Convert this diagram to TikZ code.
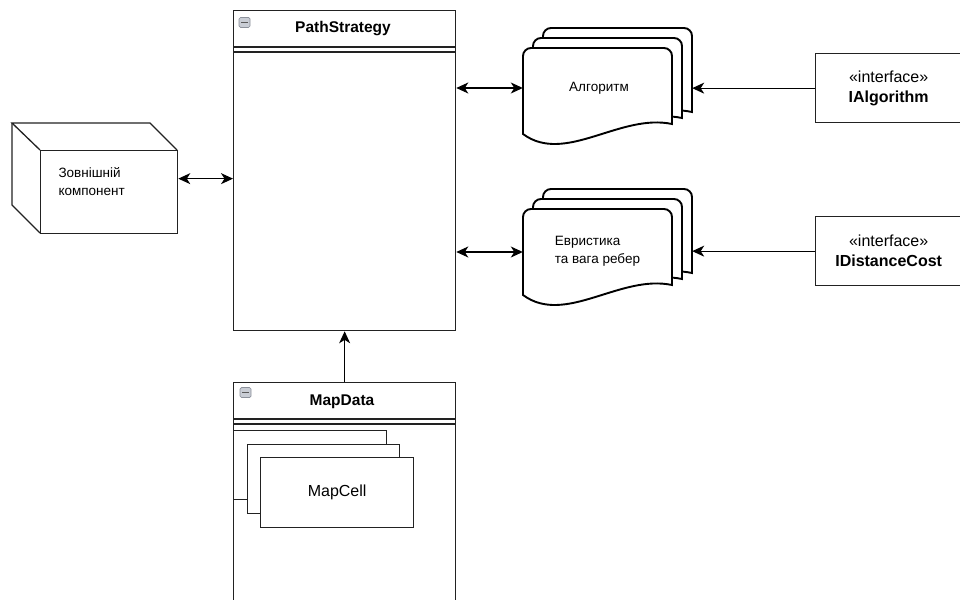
\documentclass[tikz,border=0pt]{standalone}
\usepackage{fontspec}
\setmainfont{Liberation Sans}
\usetikzlibrary{arrows.meta,calc}

\definecolor{iconfill}{HTML}{C9CDD5}
\definecolor{iconline}{HTML}{8C919B}
\definecolor{linegray}{HTML}{222222}

\tikzset{
  box/.style={draw=linegray, line width=1.3pt, fill=white, inner sep=0pt, anchor=north west},
  ghost/.style={inner sep=0pt, minimum width=149pt, minimum height=80pt},
  page/.style={draw=black, line width=1.9pt, fill=white},
  edge3d/.style={draw=linegray, line width=1.3pt},
  sepline/.style={draw=linegray, line width=1.3pt},
  link/.style={line width=1.1pt, -{Stealth[length=12pt, width=11pt, inset=3.5pt]}},
  bilink/.style={line width=1.1pt, {Stealth[length=12pt, width=11pt, inset=3.5pt]}-{Stealth[length=12pt, width=11pt, inset=3.5pt]}},
  icon/.style={draw=iconline, fill=iconfill, rounded corners=1.5pt, line width=0.7pt,
    minimum width=11pt, minimum height=10pt, inner sep=0pt},
  titletext/.style={font=\fontsize{15.5}{18}\selectfont\bfseries},
  doctext/.style={font=\fontsize{13.5}{18}\selectfont},
  ifacetext/.style={font=\fontsize{16}{20}\selectfont, align=center},
}

% one sheet of a stacked document: #1,#2 top-left, #3 drop of right end, #4 drop of left end
\newcommand{\docsheet}[4]{%
  \path[page] (#1,#2+#4) -- (#1,#2+8)
    .. controls (#1,#2+3.6) and (#1+3.6,#2) .. (#1+8,#2)
    -- (#1+141,#2)
    .. controls (#1+145.4,#2) and (#1+149,#2+3.6) .. (#1+149,#2+8)
    -- (#1+149,#2+#3)
    .. controls (#1+97,#2+#3-11) and (#1+42,#2+#4+31) .. (#1,#2+#4) -- cycle;}

% collapse icon of a header bar
\newcommand{\minusicon}[2]{%
  \node[icon] at (#1,#2) {};
  \draw[line width=1.4pt, black!65] (#1-3.2,#2) -- (#1+3.2,#2);}

\begin{document}
\begin{tikzpicture}[x=1pt, y=-1pt]
\useasboundingbox (0,0) rectangle (960,599);

% ---- external component (cube) ----
\draw[edge3d] (40,150) -- (12,123) -- (150,123) -- (177,150);
\draw[edge3d] (12,123) -- (12,205) -- (40,233);
\node[box, minimum width=137pt, minimum height=83pt] (ext) at (40,150) {};
\node[doctext, anchor=west, align=left] (extlabel) at (55,182) {Зовнішній\\компонент};

% ---- PathStrategy ----
\node[box, minimum width=222pt, minimum height=320pt] (ps) at (233,10) {};
\draw[sepline] ([yshift=-37pt]ps.north west) -- ([yshift=-37pt]ps.north east);
\draw[sepline] ([yshift=-42pt]ps.north west) -- ([yshift=-42pt]ps.north east);
\node[titletext] (pstitle) at (343,29) {PathStrategy};
\minusicon{244.5}{22.5}

% ---- algorithm stack ----
\docsheet{543}{28}{84}{86}
\docsheet{533}{38}{80}{86}
\docsheet{523}{48}{76}{86}
\node[ghost] (alg3) at (617.5,68) {};
\node[ghost, doctext] (alg) at (599,88) {Алгоритм};

% ---- heuristic stack ----
\docsheet{543}{189}{84}{86}
\docsheet{533}{199}{80}{86}
\docsheet{523}{209}{76}{86}
\node[ghost] (het3) at (617.5,229) {};
\node[ghost, doctext, align=left] (het) at (597.5,251) {Евристика\\та вага ребер};

% ---- interfaces ----
\node[box, minimum width=146pt, minimum height=69pt, ifacetext] (ia) at (815,53)
  {«interface»\\\textbf{IAlgorithm}};
\node[box, minimum width=146pt, minimum height=69pt, ifacetext] (idc) at (815,216)
  {«interface»\\\textbf{IDistanceCost}};

% ---- MapData ----
\node[box, minimum width=222pt, minimum height=240pt] (md) at (233,382) {};
\draw[sepline] ([yshift=-37pt]md.north west) -- ([yshift=-37pt]md.north east);
\draw[sepline] ([yshift=-42pt]md.north west) -- ([yshift=-42pt]md.north east);
\node[titletext] (mdtitle) at (342,402) {MapData};
\minusicon{245.5}{392.5}

\node[box, minimum width=153pt, minimum height=69pt] (mc1) at (233,430) {};
\node[box, minimum width=152pt, minimum height=69pt] (mc2) at (247,444) {};
\node[box, minimum width=153pt, minimum height=70pt, font=\fontsize{16}{20}\selectfont] (mc) at (260,457) {MapCell};

% ---- connectors ----
\draw[bilink] ([yshift=13.5pt]ext.east) -- ([yshift=13.5pt]ext.east -| ps.west);
\draw[bilink] (alg.west -| ps.east) -- (alg.west -| het.west);
\draw[bilink] ([yshift=-1pt]het.west -| ps.east) -- ([yshift=-1pt]het.west);
\draw[link] (ia.west) -- (ia.west -| alg3.east);
\draw[link] (idc.west) -- (idc.west -| het3.east);
\draw[link] (md.north) -- (ps.south);
\end{tikzpicture}
\end{document}
